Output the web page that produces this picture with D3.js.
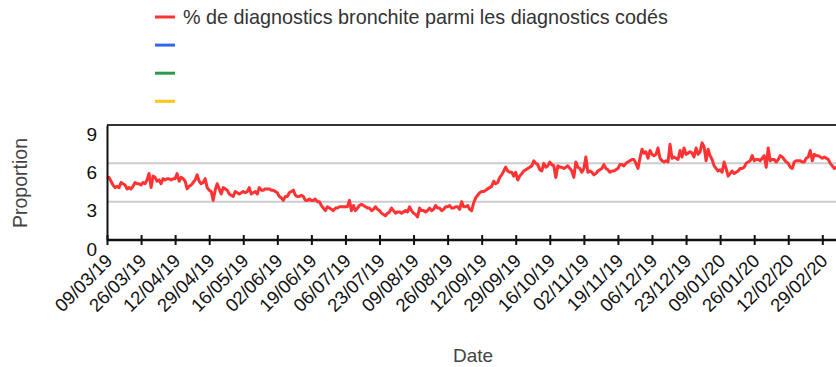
<!DOCTYPE html>
<html>
<head>
<meta charset="utf-8">
<script src="https://cdn.jsdelivr.net/npm/d3@7/dist/d3.min.js"></script>
<style>
  html, body { margin: 0; padding: 0; background: #fff; overflow: hidden; }
  svg { display: block; font-family: "Liberation Sans", Arial, sans-serif; }
</style>
</head>
<body>
<svg id="chart" width="836" height="367"></svg>
<script>
// Daily share of bronchitis diagnostics among coded diagnostics, starting 09/03/2019
const startDate = "2019-03-09";
const proportion = [
  4.8, 4.9, 4.6, 4.3, 4.1, 4.2, 4.1, 4.5, 4.4, 4.3,
  4.0, 4.1, 4.0, 4.2, 4.5, 4.4, 4.4, 4.3, 4.5, 4.4,
  4.7, 5.2, 4.1, 5.0, 4.9, 4.6, 4.7, 4.4, 4.8, 4.7,
  4.8, 4.8, 4.7, 4.8, 4.8, 5.2, 4.6, 4.9, 4.8, 4.6,
  4.0, 4.2, 4.3, 4.5, 4.7, 5.1, 4.6, 4.4, 4.5, 4.8,
  4.1, 3.9, 3.8, 3.1, 3.9, 4.4, 4.0, 3.6, 4.1, 4.0,
  3.9, 3.6, 3.5, 3.4, 3.8, 3.7, 3.6, 3.7, 3.8, 3.7,
  3.8, 4.1, 3.6, 3.7, 3.8, 3.6, 4.1, 3.9, 3.9, 4.0,
  4.0, 4.0, 3.9, 3.9, 3.8, 3.7, 3.4, 3.3, 3.1, 3.4,
  3.4, 3.7, 3.8, 3.9, 3.5, 3.4, 3.4, 3.5, 3.4, 3.1,
  3.1, 3.2, 3.1, 3.1, 3.2, 3.0, 3.0, 2.7, 2.5, 2.3,
  2.6, 2.5, 2.4, 2.3, 2.5, 2.5, 2.6, 2.6, 2.6, 2.6,
  2.6, 3.1, 2.3, 2.7, 2.3, 2.5, 2.7, 2.8, 2.7, 2.6,
  2.5, 2.5, 2.3, 2.4, 2.6, 2.4, 2.3, 2.1, 2.0, 1.9,
  2.1, 2.2, 2.5, 2.3, 2.1, 2.2, 2.2, 2.1, 2.2, 2.3,
  2.2, 2.6, 2.3, 2.1, 2.0, 1.8, 2.5, 2.3, 2.3, 2.2,
  2.3, 2.5, 2.3, 2.4, 2.7, 2.5, 2.5, 2.3, 2.4, 2.6,
  2.6, 2.7, 2.5, 2.5, 2.6, 2.6, 2.4, 3.0, 2.6, 2.6,
  2.7, 2.4, 2.3, 2.9, 3.3, 3.5, 3.7, 3.8, 3.8, 3.9,
  4.0, 4.1, 4.2, 4.6, 4.4, 4.5, 4.9, 5.1, 5.4, 5.7,
  5.4, 5.3, 5.3, 5.0, 5.3, 4.7, 5.0, 5.2, 5.4, 5.5,
  5.6, 5.7, 5.8, 6.2, 6.0, 5.9, 5.5, 5.4, 6.0, 5.7,
  5.8, 6.1, 5.9, 5.8, 4.9, 5.8, 5.7, 5.7, 5.6, 5.7,
  5.8, 5.6, 5.4, 4.9, 6.1, 5.7, 5.6, 5.3, 5.6, 6.5,
  5.3, 5.4, 5.3, 5.1, 5.2, 5.4, 5.5, 5.6, 5.9, 5.6,
  5.5, 5.3, 5.4, 5.4, 5.5, 5.6, 5.9, 5.9, 5.8, 6.0,
  6.1, 6.2, 6.3, 6.3, 6.0, 5.6, 6.4, 7.1, 6.8, 6.9,
  6.4, 7.0, 6.7, 6.6, 6.7, 7.2, 6.4, 6.2, 6.1, 6.2,
  6.1, 7.5, 6.4, 6.5, 6.4, 6.3, 7.0, 6.5, 7.2, 6.7,
  6.8, 6.9, 6.8, 6.5, 7.2, 6.7, 6.9, 7.6, 7.3, 6.2,
  7.1, 6.6, 6.3, 5.8, 5.6, 5.4, 5.5, 5.3, 6.1, 5.6,
  5.0, 5.2, 5.4, 5.2, 5.3, 5.4, 5.6, 5.6, 5.7, 6.0,
  6.1, 6.2, 6.6, 6.2, 6.3, 6.3, 6.2, 6.4, 6.6, 5.7,
  7.2, 6.2, 6.3, 6.3, 6.1, 6.3, 6.6, 6.5, 6.3, 6.1,
  6.0, 5.7, 5.6, 6.1, 6.2, 6.2, 6.2, 6.1, 6.1, 6.4,
  6.5, 7.0, 6.2, 6.7, 6.6, 6.6, 6.5, 6.4, 6.5, 6.4,
  6.3, 6.0, 5.8, 5.6, 5.7
];

// Axis labels (every 17 days)
const xTickLabels = [
  "09/03/19", "26/03/19", "12/04/19", "29/04/19", "16/05/19", "02/06/19",
  "19/06/19", "06/07/19", "23/07/19", "09/08/19", "26/08/19", "12/09/19",
  "29/09/19", "16/10/19", "02/11/19", "19/11/19", "06/12/19", "23/12/19",
  "09/01/20", "26/01/20", "12/02/20", "29/02/20"
];
const yTickValues = [0, 3, 6, 9];

const seriesNames = ["% de diagnostics bronchite parmi les diagnostics codés", "", "", ""];
const seriesColors = ["#ff3333", "#3366ee", "#2e9a48", "#ffc61a"];

const svg = d3.select("#chart");
const parse = d3.timeParse("%Y-%m-%d");
const parseTick = d3.timeParse("%d/%m/%y");
const fmtTick = d3.timeFormat("%d/%m/%y");

const t0 = parse(startDate);
const data = proportion.map((v, i) => ({ date: d3.timeDay.offset(t0, i), value: v }));
const tickDates = xTickLabels.map(parseTick);

const plot = { left: 107, top: 125, bottom: 240 };
const x = d3.scaleTime()
  .domain([tickDates[0], tickDates[tickDates.length - 1]])
  .range([plot.left, 822.3]);
const y = d3.scaleLinear().domain([0, 9]).range([plot.bottom, plot.top]);
const plotRight = 900;

// Gridlines
svg.append("g")
  .selectAll("line")
  .data(yTickValues.filter(v => v > 0 && v < 9))
  .join("line")
  .attr("x1", plot.left).attr("x2", plotRight)
  .attr("y1", d => y(d)).attr("y2", d => y(d))
  .attr("stroke", "#cccccc").attr("stroke-width", 2);

// Top frame
svg.append("line")
  .attr("x1", plot.left).attr("x2", plotRight)
  .attr("y1", y(9)).attr("y2", y(9))
  .attr("stroke", "#333").attr("stroke-width", 2);

// Series line
const line = d3.line().x(d => x(d.date)).y(d => y(d.value));
svg.append("path")
  .datum(data)
  .attr("fill", "none")
  .attr("stroke", seriesColors[0])
  .attr("stroke-width", 3)
  .attr("stroke-linejoin", "round")
  .attr("d", line);

// Y axis
const yAxis = svg.append("g").attr("transform", `translate(${plot.left},0)`)
  .call(d3.axisLeft(y).tickValues(yTickValues).tickSize(0).tickPadding(10));
yAxis.select(".domain").attr("stroke", "#111").attr("stroke-width", 2);
yAxis.selectAll("text")
  .attr("font-size", 19).attr("fill", "#111")
  .attr("dy", "0.8em");

// X axis
const xAxis = svg.append("g").attr("transform", `translate(0,${plot.bottom})`)
  .call(d3.axisBottom(x).tickValues(tickDates).tickFormat(fmtTick).tickSizeInner(5).tickSizeOuter(0));
xAxis.select(".domain").attr("stroke", "#111").attr("stroke-width", 2.5)
  .attr("d", `M${plot.left},0H${plotRight}`);
xAxis.selectAll(".tick line")
  .attr("stroke", "#111").attr("stroke-width", 2)
  .attr("y1", -5).attr("y2", 5);
xAxis.selectAll(".tick text")
  .attr("font-size", 18.5).attr("fill", "#111")
  .attr("text-anchor", "end")
  .attr("transform", "translate(6,22) rotate(-45)")
  .attr("x", 0).attr("y", 0).attr("dy", 0);

// Axis titles
svg.append("text")
  .attr("x", 473).attr("y", 362)
  .attr("text-anchor", "middle")
  .attr("font-size", 19).attr("fill", "#444")
  .text("Date");
svg.append("text")
  .attr("transform", "translate(27,183) rotate(-90)")
  .attr("text-anchor", "middle")
  .attr("font-size", 19.5).attr("fill", "#444")
  .text("Proportion");

// Legend
const legend = svg.append("g");
const items = legend.selectAll("g")
  .data(seriesNames.map((n, i) => ({ name: n, color: seriesColors[i], i })))
  .join("g")
  .attr("transform", d => `translate(155,${17 + d.i * 28.1})`);
items.append("line")
  .attr("x1", 0).attr("x2", 20).attr("y1", 0).attr("y2", 0)
  .attr("stroke", d => d.color).attr("stroke-width", 3);
items.append("text")
  .attr("x", 28).attr("y", 0).attr("dy", "0.35em")
  .attr("font-size", 19.8).attr("fill", "#333")
  .text(d => d.name);
</script>
</body>
</html>
